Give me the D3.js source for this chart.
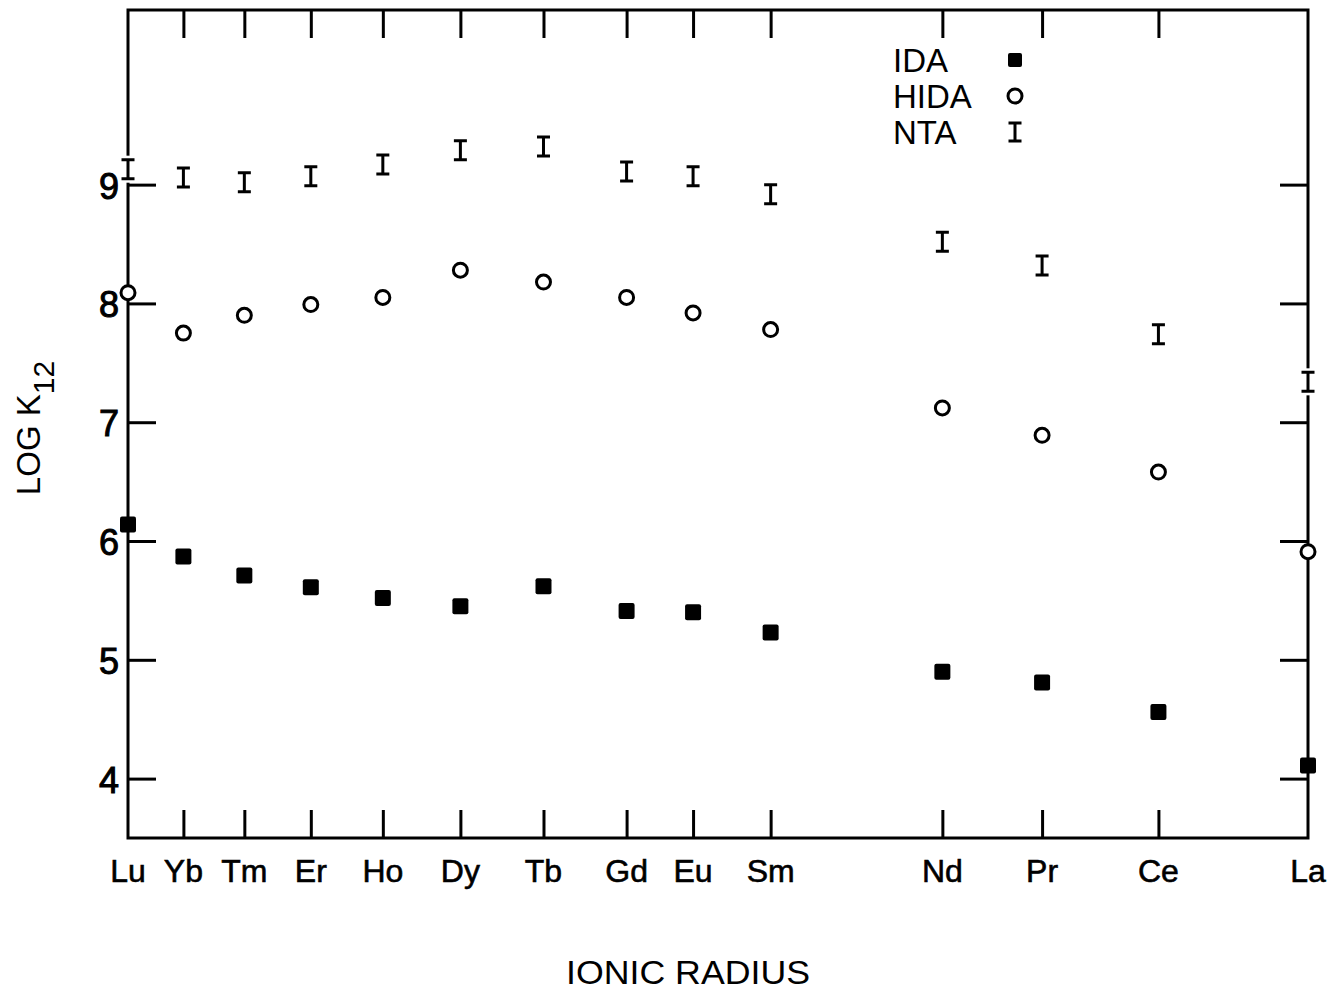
<!DOCTYPE html>
<html>
<head>
<meta charset="utf-8">
<title>LOG K12 vs ionic radius</title>
<script src="https://cdn.jsdelivr.net/npm/d3@7"></script>
<style>
    body { margin: 0; background: #fff; }
    svg { display: block; }
    text { font-family: "Liberation Sans", "DejaVu Sans", sans-serif; fill: #000; }
    .lab { font-size: 32px; stroke: #000; stroke-width: 0.6px; }
    .ylab { font-size: 36px; stroke: #000; stroke-width: 1px; }
    .ttl { font-family: "Liberation Sans Narrow", "Liberation Sans", sans-serif; font-size: 33px; }
</style>
</head>
<body>
<script>
// lanthanides, left to right
var elements = ["Lu", "Yb", "Tm", "Er", "Ho", "Dy", "Tb", "Gd", "Eu", "Sm", "Nd", "Pr", "Ce", "La"];
// ionic radius (angstrom) sets the x position
var radius = [0.848, 0.858, 0.869, 0.881, 0.894, 0.908, 0.923, 0.938, 0.950, 0.964, 0.995, 1.013, 1.034, 1.061];

// log K12
var ida  = [6.14, 5.87, 5.71, 5.61, 5.52, 5.45, 5.62, 5.41, 5.40, 5.23, 4.90, 4.81, 4.56, 4.11];
var hida = [8.09, 7.75, 7.90, 7.99, 8.05, 8.28, 8.18, 8.05, 7.92, 7.78, 7.12, 6.89, 6.58, 5.91];
var nta  = [9.13, 9.06, 9.02, 9.07, 9.17, 9.29, 9.32, 9.11, 9.07, 8.92, 8.52, 8.32, 7.74, 7.34];
var ntaErr = 0.08;

var yTicks = [4, 5, 6, 7, 8, 9];

var width = 1334, height = 993;
var mLeft = 128, mRight = 1308, mTop = 10, mBottom = 838;

var svg = d3.select("body").append("svg")
    .attr("width", width)
    .attr("height", height);

var x = d3.scaleLinear().domain([0.848, 1.061]).range([mLeft, mRight]);
var y = d3.scaleLinear().domain([3.5, 10.47]).range([mBottom, mTop]);

var rows = elements.map(function(e, i) {
    return {el: e, r: radius[i], ida: ida[i], hida: hida[i], nta: nta[i]};
});

// frame
svg.append("rect")
    .attr("x", mLeft).attr("y", mTop)
    .attr("width", mRight - mLeft).attr("height", mBottom - mTop)
    .attr("fill", "none").attr("stroke", "#000").attr("stroke-width", 3);

// inward ticks on all four sides
var tickLen = 28;
var inner = rows.slice(1, rows.length - 1).map(function(d) { return d.r; });
svg.append("g").attr("transform", "translate(0," + mTop + ")")
    .call(d3.axisTop(x).tickValues(inner).tickSize(-tickLen).tickFormat(""));
svg.append("g").attr("transform", "translate(0," + mBottom + ")")
    .call(d3.axisBottom(x).tickValues(inner).tickSize(-tickLen).tickFormat(""));
svg.append("g").attr("transform", "translate(" + mLeft + ",0)")
    .call(d3.axisLeft(y).tickValues(yTicks).tickSize(-tickLen).tickFormat(""));
svg.append("g").attr("transform", "translate(" + mRight + ",0)")
    .call(d3.axisRight(y).tickValues(yTicks).tickSize(-tickLen).tickFormat(""));
svg.selectAll(".domain").remove();
svg.selectAll(".tick line").attr("stroke", "#000").attr("stroke-width", 3);

// y tick labels
svg.selectAll(".ylab").data(yTicks).enter().append("text")
    .attr("class", "ylab")
    .attr("x", mLeft - 9)
    .attr("y", function(d) { return y(d) + 14; })
    .attr("text-anchor", "end")
    .text(function(d) { return d; });

// element labels
svg.selectAll(".xlab").data(rows).enter().append("text")
    .attr("class", "lab")
    .attr("x", function(d) { return x(d.r); })
    .attr("y", 882)
    .attr("text-anchor", "middle")
    .text(function(d) { return d.el; });

// axis titles
svg.append("text").attr("class", "ttl")
    .attr("x", 688).attr("y", 984)
    .attr("text-anchor", "middle")
    .attr("textLength", 244)
    .attr("lengthAdjust", "spacingAndGlyphs")
    .text("IONIC   RADIUS");

var yt = svg.append("text").attr("class", "ttl")
    .attr("transform", "translate(40,428) rotate(-90)")
    .attr("text-anchor", "middle")
    .attr("font-size", 37);
yt.append("tspan").text("LOG  K");
yt.append("tspan").attr("dy", 14).attr("font-size", 30).text("12");

// NTA error bars
function drawBar(g, cx, yc, half) {
    g.append("rect")
        .attr("x", cx - 5).attr("y", yc - half - 4)
        .attr("width", 10).attr("height", 2 * half + 8)
        .attr("fill", "#fff");
    g.append("path")
        .attr("d", "M" + (cx - 6.5) + "," + (yc - half) + "H" + (cx + 6.5) +
                   "M" + cx + "," + (yc - half) + "V" + (yc + half) +
                   "M" + (cx - 6.5) + "," + (yc + half) + "H" + (cx + 6.5))
        .attr("stroke", "#000").attr("stroke-width", 3).attr("fill", "none");
}

var ntaG = svg.append("g");
rows.forEach(function(d) {
    var y0 = y(d.nta + ntaErr), y1 = y(d.nta - ntaErr);
    drawBar(ntaG, x(d.r), (y0 + y1) / 2, (y1 - y0) / 2);
});

// HIDA open circles
svg.append("g").selectAll("circle").data(rows).enter().append("circle")
    .attr("cx", function(d) { return x(d.r); })
    .attr("cy", function(d) { return y(d.hida); })
    .attr("r", 7)
    .attr("fill", "#fff").attr("stroke", "#000").attr("stroke-width", 3);

// IDA filled squares
svg.append("g").selectAll("rect").data(rows).enter().append("rect")
    .attr("x", function(d) { return x(d.r) - 8; })
    .attr("y", function(d) { return y(d.ida) - 8; })
    .attr("width", 16).attr("height", 16)
    .attr("rx", 2)
    .attr("fill", "#000");

// legend
var legendNames = ["IDA", "HIDA", "NTA"];
var lg = svg.append("g");
legendNames.forEach(function(n, i) {
    var ly = 60 + i * 36;
    lg.append("text").attr("class", "ttl")
        .attr("x", 893).attr("y", ly + 12)
        .text(n);
    if (n === "IDA") {
        lg.append("rect").attr("x", 1008).attr("y", ly - 7).attr("width", 14).attr("height", 14)
            .attr("rx", 2).attr("fill", "#000");
    } else if (n === "HIDA") {
        lg.append("circle").attr("cx", 1015).attr("cy", ly).attr("r", 7)
            .attr("fill", "#fff").attr("stroke", "#000").attr("stroke-width", 3);
    } else {
        drawBar(lg, 1015, ly, 9);
    }
});
</script>
</body>
</html>
